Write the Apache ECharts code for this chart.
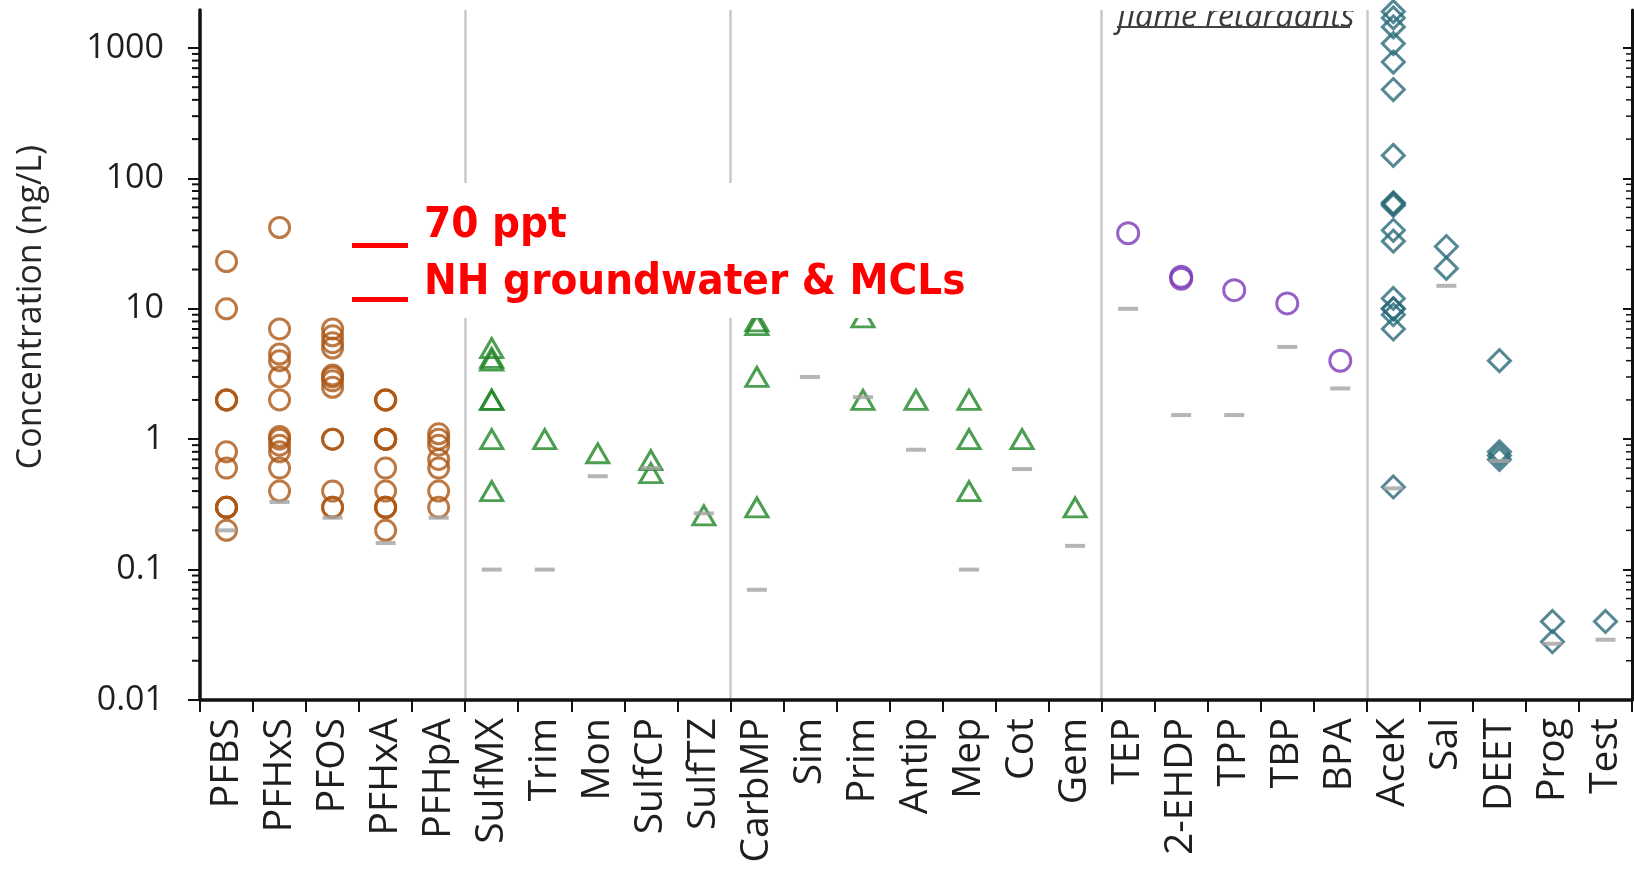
<!DOCTYPE html>
<html>
<head>
<meta charset="utf-8">
<script src="https://cdn.jsdelivr.net/npm/echarts@6/dist/echarts.min.js"></script>
<style>
html,body{margin:0;padding:0;background:#fff;}
#chart{width:1634px;height:870px;}
</style>
</head>
<body>
<div id="chart"></div>
<script>
// ---------- data ----------
const categories = ['PFBS','PFHxS','PFOS','PFHxA','PFHpA',
  'SulfMX','Trim','Mon','SulfCP','SulfTZ',
  'CarbMP','Sim','Prim','Antip','Mep','Cot','Gem',
  'TEP','2-EHDP','TPP','TBP','BPA',
  'AceK','Sal','DEET','Prog','Test'];

// PFAS (categories 0-4)
const pfasValues = [
  [23, 10, 2, 2, 2, 0.8, 0.6, 0.3, 0.3, 0.3, 0.3, 0.2],
  [42, 7, 4.5, 4, 3, 2, 1.05, 1, 0.9, 0.8, 0.6, 0.4],
  [7, 6.2, 5.5, 5, 3.1, 3, 2.8, 2.5, 1, 1, 0.4, 0.3, 0.3],
  [2, 2, 2, 1, 1, 1, 1, 0.6, 0.4, 0.3, 0.3, 0.3, 0.2],
  [1.1, 1, 0.9, 0.7, 0.6, 0.4, 0.3]
];
// pharmaceuticals (categories 5-16)
const pharmaValues = [
  [5, 4.2, 4, 2, 2, 1, 0.4],
  [1],
  [0.78],
  [0.69, 0.55],
  [0.26],
  [8, 7.5, 3, 0.3],
  [],
  [8.6, 2],
  [2],
  [2, 1, 0.4],
  [1],
  [0.3]
];
// flame retardants (categories 17-21)
const flameValues = [
  [38],
  [17.6, 17],
  [13.9],
  [11],
  [4]
];
// others (categories 22-26)
const otherValues = [
  [1900, 1700, 1450, 1080, 780, 480, 150, 65, 64, 62, 40, 33, 12, 10, 10, 9, 7, 0.43],
  [30, 20.4],
  [4, 0.8, 0.75, 0.7],
  [0.04, 0.028],
  [0.04]
];
// reporting levels (grey dashes), one per category
const limitValues = [0.2, 0.33, 0.25, 0.16, 0.25,
  0.1, 0.1, 0.52, 0.6, 0.27,
  0.07, 3.0, 2.1, 0.83, 0.1, 0.59, 0.152,
  10, 1.53, 1.53, 5.1, 2.45,
  0.42, 15, 0.68, 0.027, 0.029];

const groupStarts = [0, 5, 17, 22];
const separatorIndices = [5, 10, 17, 22];
const yTickValues = [0.01, 0.1, 1, 10, 100, 1000];
const yMin = 0.01, yMax = 1955;

// ---------- helpers ----------
function toPoints(groups, start) {
  const out = [];
  groups.forEach((vals, j) => vals.forEach(v => out.push([start + j, v])));
  return out;
}
const minorTickValues = [];
for (let k = -2; k <= 3; k++) {
  for (let m = 2; m <= 9; m++) {
    const v = m * Math.pow(10, k);
    if (v <= yMax) minorTickValues.push([0, v]);
  }
}
function fmtLog(v) {
  const p = Math.round(Math.log10(v));
  if (Math.abs(Math.log10(v) - p) > 1e-6) return '';
  return p >= 0 ? String(Math.pow(10, p)) : Math.pow(10, p).toFixed(-p);
}

const FONT = 'Open Sans';
const RED_FONT = 'bold 43.5px "DejaVu Sans Condensed", "DejaVu Sans", sans-serif';
const chart = echarts.init(document.getElementById('chart'));

const hollow = (c, w) => ({ color: 'rgba(255,255,255,0)', borderColor: c, borderWidth: w });

chart.setOption({
  animation: false,
  backgroundColor: '#fff',
  grid: { left: 200, right: 2, top: 10, bottom: 170, containLabel: false },
  xAxis: {
    type: 'category',
    data: categories,
    boundaryGap: true,
    axisLine: { lineStyle: { color: '#111', width: 3.5 } },
    axisTick: { show: true, length: 12, inside: false, lineStyle: { color: '#111', width: 2 } },
    axisLabel: { rotate: 90, margin: 18, fontFamily: FONT, fontSize: 39, color: '#1E1E1E', interval: 0 },
    splitLine: {
      show: true,
      interval: (idx) => separatorIndices.indexOf(idx) >= 0,
      lineStyle: { color: '#C8C8C8', width: 2.5 }
    }
  },
  yAxis: [{
    type: 'log',
    logBase: 10,
    min: yMin,
    max: yMax,
    axisLine: { show: true, lineStyle: { color: '#111', width: 3.5 } },
    axisTick: { show: true, length: 12, lineStyle: { color: '#111', width: 2 }, customValues: yTickValues },
    axisLabel: { margin: 36, fontFamily: FONT, fontSize: 34, color: '#1E1E1E', formatter: fmtLog, customValues: yTickValues },
    splitLine: { show: false }
  }, {
    type: 'log',
    logBase: 10,
    min: yMin,
    max: yMax,
    position: 'right',
    axisLine: { show: true, lineStyle: { color: '#111', width: 3 } },
    axisTick: { show: true, inside: true, length: 9, lineStyle: { color: '#111', width: 2 }, customValues: yTickValues },
    axisLabel: { show: false },
    splitLine: { show: false }
  }],
  series: [
    {
      type: 'custom',
      silent: true,
      clip: false,
      z: 1,
      data: minorTickValues,
      renderItem: function (params, api) {
        const v = api.value(1);
        const p0 = api.coord([0, v]);
        const p1 = api.coord([1, v]);
        const band = p1[0] - p0[0];
        const xl = p0[0] - band / 2;
        const xr = api.coord([categories.length - 1, v])[0] + band / 2;
        return {
          type: 'group',
          children: [
            { type: 'line', shape: { x1: xl - 8, y1: p0[1], x2: xl, y2: p0[1] }, style: { stroke: '#111', lineWidth: 2 } },
            { type: 'line', shape: { x1: xr - 6, y1: p0[1], x2: xr, y2: p0[1] }, style: { stroke: '#111', lineWidth: 1.5 } }
          ]
        };
      }
    },
    {
      type: 'scatter', name: 'limits', z: 4,
      symbol: 'rect', symbolSize: [20, 4],
      itemStyle: { color: '#A3A3A3' },
      data: limitValues.map((v, i) => [i, v])
    },
    {
      type: 'scatter', name: 'PFAS', z: 3,
      symbol: 'circle', symbolSize: 20,
      itemStyle: hollow('#AD5715', 3),
      data: toPoints(pfasValues, groupStarts[0])
    },
    {
      type: 'scatter', name: 'Pharma', z: 3,
      symbol: 'triangle', symbolSize: [22, 19],
      itemStyle: hollow('#1F8626', 3),
      data: toPoints(pharmaValues, groupStarts[1])
    },
    {
      type: 'scatter', name: 'Flame retardants', z: 3,
      symbol: 'circle', symbolSize: 21,
      itemStyle: hollow('#7A3AB8', 3),
      data: toPoints(flameValues, groupStarts[2])
    },
    {
      type: 'scatter', name: 'Others', z: 3,
      symbol: 'diamond', symbolSize: [22, 22],
      itemStyle: hollow('#296A79', 3),
      data: toPoints(otherValues, groupStarts[3])
    }
  ],
  graphic: [
    { type: 'rect', z: 50, shape: { x: 340, y: 183, width: 640, height: 135 }, style: { fill: '#fff' } },
    { type: 'rect', z: 51, shape: { x: 352, y: 243, width: 56, height: 5 }, style: { fill: '#FF0000' } },
    { type: 'rect', z: 51, shape: { x: 352, y: 297, width: 56, height: 5 }, style: { fill: '#FF0000' } },
    { type: 'text', z: 51, x: 424, y: 226, style: { text: '70 ppt', fill: '#FF0000', font: RED_FONT, verticalAlign: 'middle' } },
    { type: 'text', z: 51, x: 424, y: 283, style: { text: 'NH groundwater & MCLs', fill: '#FF0000', font: RED_FONT, verticalAlign: 'middle' } },
    { type: 'text', z: 51, x: 31, y: 307, rotation: Math.PI / 2, style: { text: 'Concentration (ng/L)', fill: '#262626', font: '34px "Open Sans"', align: 'center', verticalAlign: 'middle' } },
    { type: 'text', z: 51, x: 1117, y: 34, style: { text: 'flame retardants', fill: '#3A3A3A', font: 'italic 32px "Open Sans"', verticalAlign: 'bottom' } },
    { type: 'rect', z: 52, shape: { x: 1108, y: 0, width: 250, height: 11 }, style: { fill: '#fff' } },
    { type: 'line', z: 51, shape: { x1: 1117, y1: 27, x2: 1350, y2: 27 }, style: { stroke: '#444', lineWidth: 2 } }
  ]
});
</script>
</body>
</html>
